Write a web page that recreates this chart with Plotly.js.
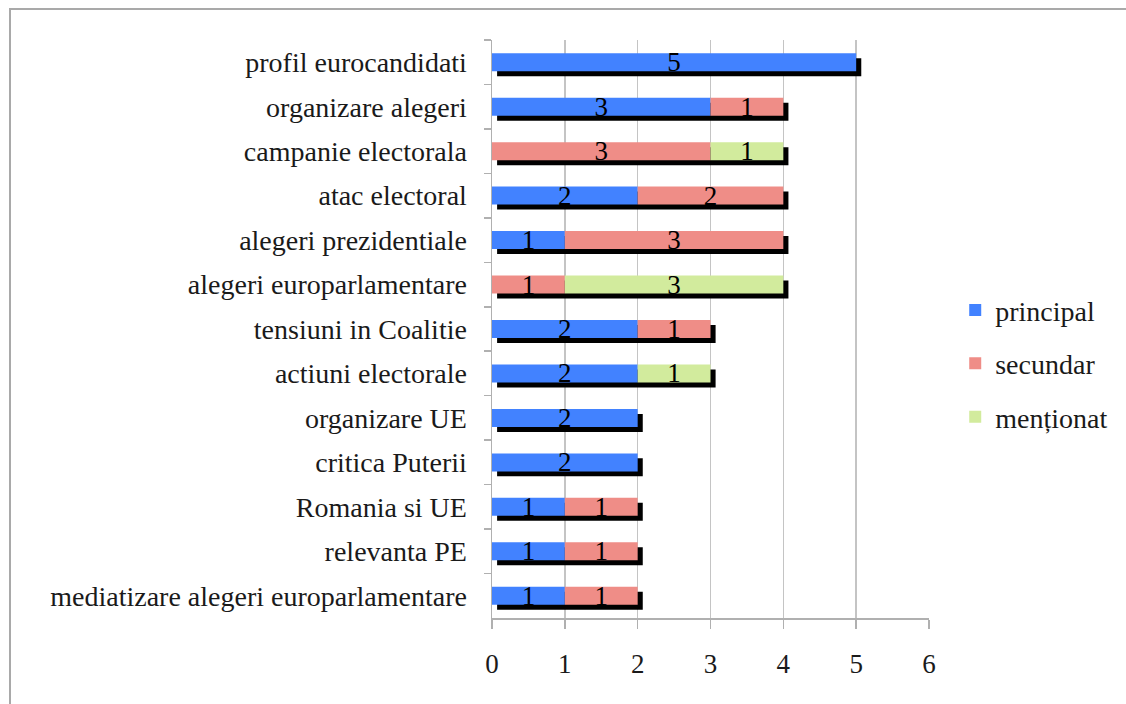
<!DOCTYPE html>
<html>
<head>
<meta charset="utf-8">
<script src="https://cdn.plot.ly/plotly-3.0.1.min.js"></script>
<style>
  html, body { margin: 0; padding: 0; background: #ffffff; }
  #wrap { position: relative; width: 1126px; height: 704px; overflow: hidden; }
  #frame { position: absolute; left: 9px; top: 8px; right: -5px; bottom: -5px;
           border-left: 2px solid #a9a9a9; border-top: 2px solid #a9a9a9; }
  #chart { position: absolute; left: 0; top: 0; width: 1126px; height: 704px; }
</style>
</head>
<body>
<div id="wrap">
  <div id="frame"></div>
  <div id="chart"></div>
</div>
<script>
const categories = [
  "profil eurocandidati",
  "organizare alegeri",
  "campanie electorala",
  "atac electoral",
  "alegeri prezidentiale",
  "alegeri europarlamentare",
  "tensiuni in Coalitie",
  "actiuni electorale",
  "organizare UE",
  "critica Puterii",
  "Romania si UE",
  "relevanta PE",
  "mediatizare alegeri europarlamentare"
];
const principal = [5, 3, 0, 2, 1, 0, 2, 2, 2, 2, 1, 1, 1];
const secundar  = [0, 1, 3, 2, 3, 1, 1, 0, 0, 0, 1, 1, 1];
const mentionat = [0, 0, 1, 0, 0, 3, 0, 1, 0, 0, 0, 0, 0];
const seriesNames = ["principal", "secundar", "menționat"];
const xTicks = [0, 1, 2, 3, 4, 5, 6];

const FONT = "'Liberation Serif', 'Times New Roman', serif";
const colors = ["#4282ff", "#ef8d87", "#d2eb9d"];

const totals = categories.map((c, i) => principal[i] + secundar[i] + mentionat[i]);
const baseSec = principal.slice();
const baseMen = principal.map((v, i) => v + secundar[i]);
const lbl = arr => arr.map(v => v ? String(v) : "");

const BW = 0.405;      // bar thickness in category units
const SH = 0.112;      // shadow vertical offset (category units)
const SX = 0.07;       // shadow horizontal offset (value units)

const shadow = {
  type: "bar", orientation: "h", y: categories, x: totals,
  base: categories.map(() => SX), width: BW, offset: -BW / 2 + SH,
  marker: { color: "#000000", line: { width: 0 } },
  showlegend: false, hoverinfo: "skip"
};

function series(vals, base, idx) {
  return {
    type: "bar", orientation: "h", name: seriesNames[idx],
    y: categories, x: vals, base: base, width: BW, offset: -BW / 2,
    marker: { color: colors[idx], line: { width: 0 } },
    text: lbl(vals), textposition: "inside", insidetextanchor: "middle",
    constraintext: "none", textangle: 0,
    textfont: { family: FONT, size: 27, color: "#000000" },
    legendgroup: "g" + idx
  };
}

const data = [
  shadow,
  series(principal, categories.map(() => 0), 0),
  series(secundar, baseSec, 1),
  series(mentionat, baseMen, 2)
];

const layout = {
  width: 1126, height: 704,
  margin: { l: 492, r: 197, t: 40, b: 86 },
  paper_bgcolor: "rgba(0,0,0,0)", plot_bgcolor: "rgba(0,0,0,0)",
  barmode: "overlay",
  font: { family: FONT, size: 28, color: "#1a1a1a" },
  xaxis: {
    range: [0, 6], tickvals: xTicks, ticktext: xTicks.map(String),
    showgrid: true, gridcolor: "#c4c4c4", gridwidth: 1.5,
    zeroline: false, showline: true, linecolor: "#b0b0b0", linewidth: 1.5,
    ticks: "outside", ticklen: 9, tickcolor: "#b0b0b0", tickwidth: 1.5,
    ticklabelstandoff: 12,
    tickfont: { family: FONT, size: 27, color: "#1a1a1a" }
  },
  yaxis: {
    type: "category", categoryorder: "array", categoryarray: categories,
    range: [12.5, -0.5],
    showgrid: false, zeroline: false, showline: true, linecolor: "#b0b0b0", linewidth: 1.5,
    ticks: "outside", tickson: "boundaries", ticklen: 7, tickcolor: "#b0b0b0", tickwidth: 1.5,
    ticklabelstandoff: 18,
    tickfont: { family: FONT, size: 28, color: "#1a1a1a" }
  },
  legend: {
    x: 1.06, y: 0.44, xanchor: "left", yanchor: "middle",
    traceorder: "grouped", tracegroupgap: 14,
    font: { family: FONT, size: 28, color: "#1a1a1a" },
    itemclick: false, itemdoubleclick: false
  },
  showlegend: true
};

Plotly.newPlot("chart", data, layout, { displayModeBar: false, staticPlot: true });
</script>
</body>
</html>
